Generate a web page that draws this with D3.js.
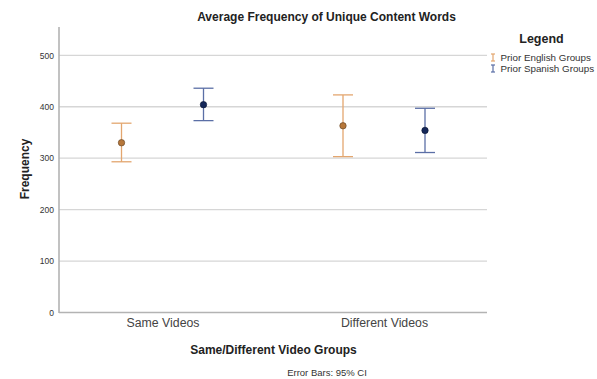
<!DOCTYPE html>
<html>
<head>
<meta charset="utf-8">
<script src="https://cdn.jsdelivr.net/npm/d3@7"></script>
<style>
  html, body { margin: 0; padding: 0; background: #fff; }
  svg { display: block; font-family: "Liberation Sans", Arial, sans-serif; }
</style>
</head>
<body>
<svg id="chart" width="597" height="379"></svg>
<script>
// Categories on the x axis and the two groups drawn at each
const categories = ["Same Videos", "Different Videos"];
const groups = ["Prior English Groups", "Prior Spanish Groups"];

// Means and 95% confidence limits, one value per category
const englishMean  = [330, 363];
const englishLower = [293, 303];
const englishUpper = [368, 423];
const spanishMean  = [404, 354];
const spanishLower = [373, 311];
const spanishUpper = [436, 397];

const yTicks = [0, 100, 200, 300, 400, 500];

const series = [
  { name: groups[0], mean: englishMean, lower: englishLower, upper: englishUpper,
    line: "#e3a66f", dot: "#b7773a", dotStroke: "#6b4a2a" },
  { name: groups[1], mean: spanishMean, lower: spanishLower, upper: spanishUpper,
    line: "#5b6fa6", dot: "#14275a", dotStroke: "#0c1838" }
];

const svg = d3.select("#chart");
const plot = { left: 59, right: 487, top: 27, bottom: 312.5 };

const y = d3.scaleLinear().domain([0, 555]).range([plot.bottom, plot.top]);
const x = d3.scalePoint().domain(categories).range([162.5, 384]);
const offset = d3.scalePoint().domain(groups).range([-41, 41]);

// Horizontal gridlines
svg.append("g")
  .selectAll("line")
  .data(yTicks.filter(d => d > 0))
  .join("line")
  .attr("x1", plot.left).attr("x2", plot.right)
  .attr("y1", d => y(d)).attr("y2", d => y(d))
  .attr("stroke", "#d6d6d6").attr("stroke-width", 1.3);

// Y axis
const yAxis = svg.append("g")
  .attr("transform", `translate(${plot.left},0)`)
  .call(d3.axisLeft(y).tickValues(yTicks).tickSize(0).tickPadding(5));
yAxis.select(".domain").remove();
yAxis.selectAll("text")
  .attr("font-size", 8.5).attr("fill", "#333")
  .attr("font-family", "Liberation Sans, Arial, sans-serif");
svg.append("line")
  .attr("x1", plot.left).attr("x2", plot.left)
  .attr("y1", plot.top).attr("y2", plot.bottom + 0.5)
  .attr("stroke", "#b3b3b3").attr("stroke-width", 1.6);

// X axis
const xAxis = svg.append("g")
  .attr("transform", `translate(0,${plot.bottom})`)
  .call(d3.axisBottom(x).tickSize(0).tickPadding(6));
xAxis.select(".domain").remove();
xAxis.selectAll("text")
  .attr("font-size", 12.3).attr("fill", "#444")
  .attr("font-family", "Liberation Sans, Arial, sans-serif");
svg.append("line")
  .attr("x1", plot.left).attr("x2", plot.right)
  .attr("y1", plot.bottom).attr("y2", plot.bottom)
  .attr("stroke", "#b3b3b3").attr("stroke-width", 1.4);

// Error bars with mean markers
const capHalf = 10;
series.forEach(s => {
  const g = svg.append("g");
  categories.forEach((c, i) => {
    const cx = x(c) + offset(s.name);
    g.append("line")
      .attr("x1", cx).attr("x2", cx)
      .attr("y1", y(s.upper[i])).attr("y2", y(s.lower[i]))
      .attr("stroke", s.line).attr("stroke-width", 1.3);
    [s.upper[i], s.lower[i]].forEach(v => {
      g.append("line")
        .attr("x1", cx - capHalf).attr("x2", cx + capHalf)
        .attr("y1", y(v)).attr("y2", y(v))
        .attr("stroke", s.line).attr("stroke-width", 1.3);
    });
    g.append("circle")
      .attr("cx", cx).attr("cy", y(s.mean[i]))
      .attr("r", 3.2)
      .attr("fill", s.dot).attr("stroke", s.dotStroke).attr("stroke-width", 0.7);
  });
});

// Titles
svg.append("text")
  .attr("x", 326.5).attr("y", 21)
  .attr("text-anchor", "middle")
  .attr("font-size", 12).attr("font-weight", "bold").attr("fill", "#222")
  .text("Average Frequency of Unique Content Words");

svg.append("text")
  .attr("transform", "translate(28.5,169) rotate(-90)")
  .attr("text-anchor", "middle")
  .attr("font-size", 12).attr("font-weight", "bold").attr("fill", "#222")
  .text("Frequency");

svg.append("text")
  .attr("x", 273.5).attr("y", 353.5)
  .attr("text-anchor", "middle")
  .attr("font-size", 12).attr("font-weight", "bold").attr("fill", "#222")
  .text("Same/Different Video Groups");

svg.append("text")
  .attr("x", 327).attr("y", 376)
  .attr("text-anchor", "middle")
  .attr("font-size", 9.5).attr("fill", "#333")
  .text("Error Bars: 95% CI");

// Legend
const legend = svg.append("g");
legend.append("text")
  .attr("x", 541.5).attr("y", 42.5)
  .attr("text-anchor", "middle")
  .attr("font-size", 12.5).attr("font-weight", "bold").attr("fill", "#222")
  .text("Legend");

series.forEach((s, i) => {
  const ly = 57.5 + i * 11;
  const lx = 493;
  const item = legend.append("g");
  item.append("line")
    .attr("x1", lx).attr("x2", lx).attr("y1", ly - 3.5).attr("y2", ly + 3.5)
    .attr("stroke", s.line).attr("stroke-width", 1.2);
  [ly - 3.5, ly + 3.5].forEach(yy => {
    item.append("line")
      .attr("x1", lx - 2).attr("x2", lx + 2).attr("y1", yy).attr("y2", yy)
      .attr("stroke", s.line).attr("stroke-width", 1.2);
  });
  item.append("text")
    .attr("x", 500.5).attr("y", ly + 3.3)
    .attr("font-size", 9.8).attr("fill", "#333")
    .text(s.name);
});
</script>
</body>
</html>
